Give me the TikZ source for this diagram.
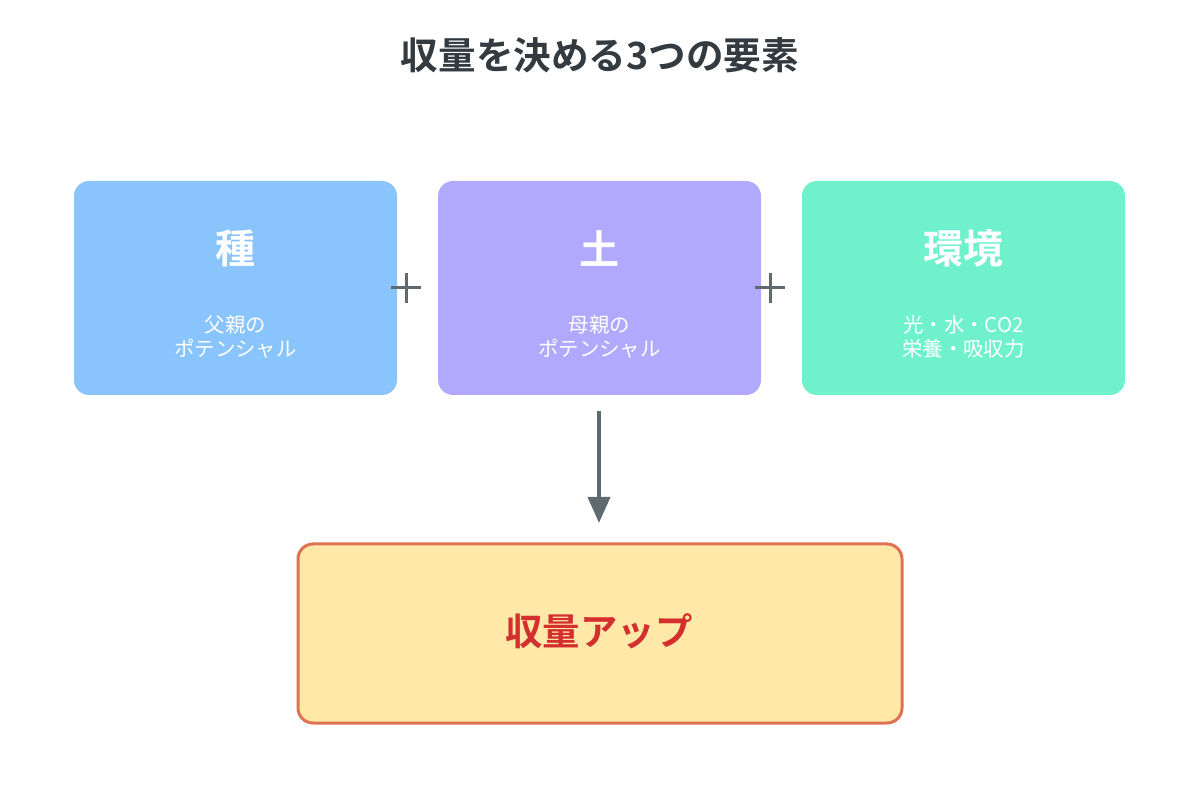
\documentclass[tikz,border=0pt]{standalone}
\usepackage{fontspec}
\setmainfont{Noto Sans CJK JP}
\newfontfamily\jpbold{Noto Sans CJK JP Bold}
\usetikzlibrary{arrows.meta}
\definecolor{cblue}{HTML}{8AC4FC}
\definecolor{cpurple}{HTML}{B1A9FD}
\definecolor{cgreen}{HTML}{6FF2CB}
\definecolor{cyellow}{HTML}{FFE8A8}
\definecolor{cborder}{HTML}{E07254}
\definecolor{cred}{HTML}{D32F2F}
\definecolor{ctitle}{HTML}{333B40}
\definecolor{cgray}{HTML}{5F6A6E}
\tikzset{
  card/.style={rounded corners=7.5pt, minimum width=161.5pt, minimum height=107pt, inner sep=0pt},
  headtext/.style={text=white, font=\jpbold\fontsize{20}{24}\selectfont},
  subtext/.style={text=white, font=\fontsize{10.2}{12}\selectfont, align=center},
  plusline/.style={cgray, line width=1.5pt},
}
\begin{document}
\begin{tikzpicture}[x=0.5pt,y=-0.5pt]
\useasboundingbox (0,0) rectangle (1200,796);
\node[text=ctitle, font=\jpbold\fontsize{18.8}{22}\selectfont] (title) at (600,55) {収量を決める3つの要素};
% cards
\node[card, fill=cblue] (seed) at (235.5,288) {};
\node[card, fill=cpurple] (soil) at (599.5,288) {};
\node[card, fill=cgreen] (env) at (963.5,288) {};
\node[headtext] (seedh) at (235.5,248) {種};
\node[headtext] (soilh) at (599.5,248) {土};
\node[headtext] (envh) at (963.5,248) {環境};
\node[subtext] (seeds) at (235.5,337) {父親の\\ポテンシャル};
\node[subtext] (soils) at (599.5,337) {母親の\\ポテンシャル};
\node[subtext] (envs) at (963.5,337) {光・水・CO2\\栄養・吸収力};
% plus signs
\coordinate (p1) at (406,288);
\coordinate (p2) at (770,288);
\foreach \p in {p1,p2}{
  \draw[plusline] ([xshift=-7.5pt]\p) -- ([xshift=7.5pt]\p);
  \draw[plusline] ([yshift=-7.5pt]\p) -- ([yshift=7.5pt]\p);
}
% result
\node[rounded corners=7.5pt, minimum width=302pt, minimum height=89.5pt, inner sep=0pt, fill=cyellow, draw=cborder, line width=1.5pt] (result) at (600,633.5) {};
\node[text=cred, font=\jpbold\fontsize{18.7}{22}\selectfont] (resultt) at (599,631) {収量アップ};
% arrow
\coordinate (astart) at (599,411);
\coordinate (aend) at (599,523);
\draw[cgray, line width=2pt, -{Triangle[width=11pt,length=13pt]}] (astart) -- (aend);
\end{tikzpicture}
\end{document}
